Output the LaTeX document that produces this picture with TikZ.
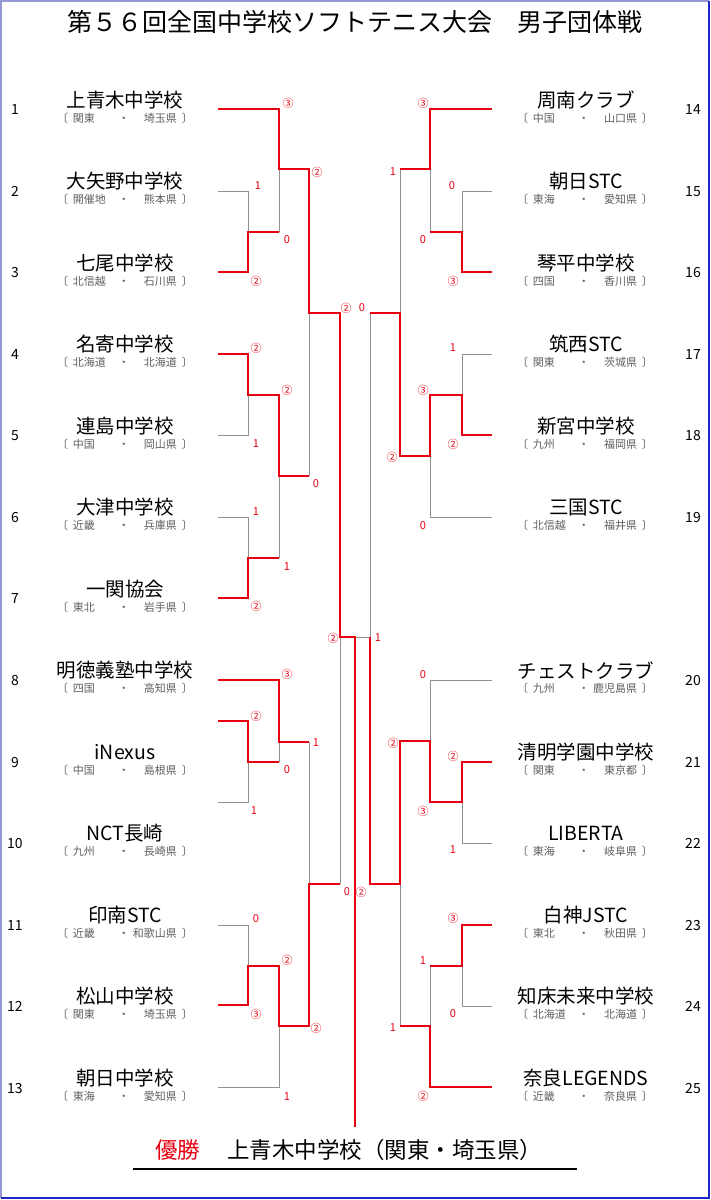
\documentclass[tikz,border=0pt]{standalone}
\usepackage{fontspec}
\setmainfont{Noto Sans CJK JP}
\usepackage{xcolor}
\usepackage{tikz}

\definecolor{winred}{RGB}{232,0,16}
\definecolor{losegray}{RGB}{145,145,145}
\definecolor{subgray}{RGB}{95,95,95}
\definecolor{frameL}{RGB}{150,150,215}
\definecolor{frameR}{RGB}{30,40,200}

\tikzset{win/.style={draw=winred, line width=2.9pt},
  lose/.style={draw=losegray, line width=0.9pt},
  score/.style={text=winred, font=\fontsize{11}{11}\selectfont, inner sep=0pt},
  team/.style={font=\fontsize{19.5}{21}\selectfont, inner sep=0pt},
  pref/.style={text=subgray, font=\fontsize{11}{12}\selectfont, inner sep=0pt},
  seed/.style={font=\fontsize{14}{15}\selectfont, inner sep=0pt}}

\newcommand{\prefbox}[2]{〔\hspace{5pt}\makebox[44pt][l]{#1}\makebox[14pt]{・}\makebox[46pt][r]{#2}\hspace{5pt}〕}

\begin{document}
\begin{tikzpicture}[x=1pt, y=-1pt]
    \useasboundingbox (0, 0) rectangle (711, 1200);
    \draw[frameL, line width=2.5pt] (1, 1198) -- (1, 1) -- (709, 1);
    \draw[frameR, line width=2.5pt] (709, 1) -- (709, 1198) -- (1, 1198);

    \node[font=\fontsize{25}{30}\selectfont] at (355, 22) (title) {第５６回全国中学校ソフトテニス大会　男子団体戦};

    % equipes a gauche
    \foreach \i/\nm/\reg/\pf in {1/上青木中学校/関東/埼玉県, 2/大矢野中学校/開催地/熊本県,
        3/七尾中学校/北信越/石川県, 4/名寄中学校/北海道/北海道, 5/連島中学校/中国/岡山県,
        6/大津中学校/近畿/兵庫県, 7/一関協会/東北/岩手県, 8/明徳義塾中学校/四国/高知県,
        9/iNexus/中国/島根県, 10/NCT長崎/九州/長崎県, 11/印南STC/近畿/和歌山県,
        12/松山中学校/関東/埼玉県, 13/朝日中学校/東海/愛知県} {
      \pgfmathsetmacro\ry{109+81.5*(\i-1)}
      \node[seed] at (15, \ry+1) (n\i) {\i};
      \node[team] at (125, \ry-9) (t\i) {\nm};
      \node[pref] at (125, \ry+9) (p\i) {\prefbox{\reg}{\pf}};
    }

    % equipes a droite
    \foreach \row/\i/\nm/\reg/\pf in {1/14/周南クラブ/中国/山口県, 2/15/朝日STC/東海/愛知県,
        3/16/琴平中学校/四国/香川県, 4/17/筑西STC/関東/茨城県, 5/18/新宮中学校/九州/福岡県,
        6/19/三国STC/北信越/福井県, 8/20/チェストクラブ/九州/鹿児島県,
        9/21/清明学園中学校/関東/東京都, 10/22/LIBERTA/東海/岐阜県,
        11/23/白神JSTC/東北/秋田県, 12/24/知床未来中学校/北海道/北海道,
        13/25/奈良LEGENDS/近畿/奈良県} {
      \pgfmathsetmacro\ry{109+81.5*(\row-1)}
      \node[seed] at (693, \ry+1) (n\i) {\i};
      \node[team] at (586, \ry-9) (t\i) {\nm};
      \node[pref] at (585, \ry+9) (p\i) {\prefbox{\reg}{\pf}};
    }

    % perdants
    \draw[lose] (218, 191) -| (248, 232);
    \draw[lose] (279, 232) -- (279, 169);
    \draw[lose] (218, 435) -| (248, 395);
    \draw[lose] (218, 517) -| (248, 558);
    \draw[lose] (279, 558) -- (279, 476);
    \draw[lose] (309, 476) -- (309, 313);
    \draw[lose] (218, 802) -| (248, 762);
    \draw[lose] (279, 762) -- (279, 742);
    \draw[lose] (218, 925) -| (248, 966);
    \draw[lose] (218, 1087) -| (279, 1026);
    \draw[lose] (309, 742) -- (309, 884);
    \draw[lose] (340, 884) -- (340, 637);
    \draw[lose] (492, 191) -| (462, 232);
    \draw[lose] (430, 232) -- (430, 169);
    \draw[lose] (492, 354) -| (462, 395);
    \draw[lose] (492, 517) -| (430, 456);
    \draw[lose] (400, 169) -- (400, 313);
    \draw[lose] (370, 313) |- (355, 637);
    \draw[lose] (492, 680) -| (430, 741);
    \draw[lose] (492, 843) -| (462, 802);
    \draw[lose] (492, 1006) -| (462, 966);
    \draw[lose] (430, 966) -- (430, 1026);
    \draw[lose] (400, 1026) -- (400, 884);

    % gagnants
    \draw[win] (218, 272) -| (248, 232) -- (279, 232);
    \draw[win] (218, 109) -| (279, 169) -- (309, 169) |- (340, 313) |- (355, 637) -- (355, 1127);
    \draw[win] (218, 354) -| (248, 395) -- (279, 395) |- (309, 476);
    \draw[win] (218, 598) -| (248, 558) -- (279, 558);
    \draw[win] (218, 721) -| (248, 762) -- (279, 762);
    \draw[win] (218, 680) -| (279, 742) -- (309, 742);
    \draw[win] (218, 1005) -| (248, 966) -- (279, 966) |- (309, 1026) |- (340, 884);
    \draw[win] (492, 272) -| (462, 232) -- (430, 232);
    \draw[win] (492, 109) -| (430, 169) -- (400, 169);
    \draw[win] (492, 435) -| (462, 395) -- (430, 395) |- (400, 456) |- (370, 313);
    \draw[win] (492, 762) -| (462, 802) -- (430, 802) |- (400, 741) |- (370, 884) -- (370, 637);
    \draw[win] (492, 925) -| (462, 966) -- (430, 966);
    \draw[win] (492, 1087) -| (430, 1026) -- (400, 1026);

    % scores
    \foreach \x/\y/\s [count=\k] in {288/103/③, 317/172/②, 258/186/1, 287/240/0, 256/281/②,
        346/308/②, 256/348/②, 287/390/②, 256/444/1, 316/484/0, 256/512/1, 287/567/1,
        256/606/②, 333/638/②, 287/674/③, 256/716/②, 316/743/1, 287/770/0, 254/811/1,
        347/892/0, 256/919/0, 287/960/②, 256/1014/③, 316/1028/②, 287/1097/1,
        423/103/③, 393/172/1, 452/186/0, 423/240/0, 453/281/③, 362/308/0, 453/348/1,
        423/390/③, 453/444/②, 392/457/②, 423/526/0, 378/638/1, 423/675/0, 393/743/②,
        453/756/②, 423/811/③, 453/850/1, 361/892/②, 453/918/③, 423/961/1, 393/1028/1,
        453/1014/0, 423/1096/②}
      \node[score] at (\x, \y) (s\k) {\s};

    % vainqueur
    \node[anchor=west, inner sep=0pt, font=\fontsize{22.5}{24}\selectfont] at (155, 1150) (champ)
      {\textcolor{winred}{優勝}\hspace{27pt}上青木中学校（関東・埼玉県）};
    \draw[line width=1.6pt] (133, 1169) -- (577, 1169);
\end{tikzpicture}
\end{document}
